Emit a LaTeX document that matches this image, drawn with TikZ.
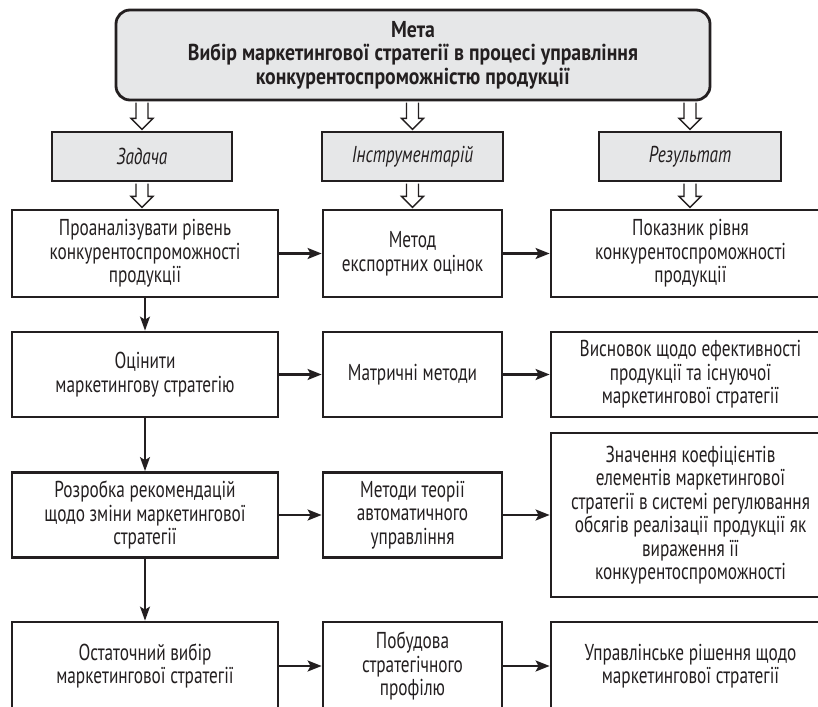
\documentclass[tikz,border=0pt]{standalone}
\usepackage{fontspec}
\setmainfont{PT Sans}[FakeStretch=0.75, BoldFeatures={FakeStretch=0.86}]
\usetikzlibrary{arrows.meta,calc}
\definecolor{ink}{HTML}{231F20}
\definecolor{panel}{HTML}{E6E7E8}

% hollow block arrow pointing down, from the bottom edge of #1 to the top edge of #2
\newcommand\blockdown[2]{%
  \draw[blockarrow] let \p1=(#1), \p2=(#2) in
    (\x1-6pt,\y1-1.3pt) -- (\x1-6pt,\y2+12.3pt) -- (\x1-11pt,\y2+12.3pt)
    -- (\x1,\y2+1.3pt) -- (\x1+11pt,\y2+12.3pt) -- (\x1+6pt,\y2+12.3pt)
    -- (\x1+6pt,\y1-1.3pt);}

\begin{document}
\begin{tikzpicture}[x=1pt,y=-1pt,
  box/.style={draw=ink, line width=2.8pt, fill=white, text=ink, align=center,
    inner sep=0pt, font=\fontsize{23}{23.5}\selectfont},
  goal/.style={box, fill=panel, rounded corners=14pt,
    font=\fontsize{23}{23.5}\selectfont\bfseries},
  headbox/.style={box, fill=panel, font=\fontsize{23}{23.5}\selectfont\itshape},
  blockarrow/.style={draw=ink, line width=1.4pt, fill=white, line join=miter},
  link/.style={draw=ink, line width=2.2pt, -{Stealth[length=14pt,width=11pt,inset=3pt]}},
  vlink/.style={draw=ink, line width=1.6pt, -{Stealth[length=14pt,width=10pt,inset=3pt]}}
]
\useasboundingbox[fill=white] (0,0) rectangle (818,706);

% goal
\node[goal, minimum width=594pt, minimum height=90pt] (goal) at (413,55)
  {Мета\\Вибір маркетингової стратегії в процесі управління\\конкурентоспроможністю продукції};

% column headers
\node[headbox, minimum width=180pt, minimum height=49pt] (task) at (142,156.5) {Задача};
\node[headbox, minimum width=181pt, minimum height=49pt] (tool) at (412.5,156.5) {Інструментарій};
\node[headbox, minimum width=182pt, minimum height=49pt] (res)  at (690,156.5) {Результат};

% row 1
\node[box, minimum width=266pt, minimum height=87pt] (a1) at (145,253.5)
  {Проаналізувати рівень\\конкурентоспроможності\\продукції};
\node[box, minimum width=179pt, minimum height=87pt] (b1) at (412.5,253.5)
  {Метод\\експортних оцінок};
\node[box, minimum width=279pt, minimum height=87pt] (c1) at (690.5,253.5)
  {Показник рівня\\конкурентоспроможності\\продукції};

% row 2
\node[box, minimum width=266pt, minimum height=85pt] (a2) at (145,374.5)
  {Оцінити\\маркетингову стратегію};
\node[box, minimum width=179pt, minimum height=85pt] (b2) at (412.5,374.5)
  {Матричні методи};
\node[box, minimum width=279pt, minimum height=85pt] (c2) at (690.5,374.5)
  {Висновок щодо ефективності\\продукції та існуючої\\маркетингової стратегії};

% row 3
\node[box, minimum width=266pt, minimum height=85pt] (a3) at (145,515)
  {Розробка рекомендацій\\щодо зміни маркетингової\\стратегії};
\node[box, minimum width=179pt, minimum height=85pt] (b3) at (412.5,515)
  {Методи теорії\\автоматичного\\управління};
\node[box, minimum width=279pt, minimum height=164pt] (c3) at (690.5,515)
  {Значення коефіцієнтів\\елементів маркетингової\\стратегії в системі регулювання\\обсягів реалізації продукції як\\вираження її\\конкурентоспроможності};

% row 4
\node[box, minimum width=266pt, minimum height=88pt] (a4) at (145,666)
  {Остаточний вибір\\маркетингової стратегії};
\node[box, minimum width=179pt, minimum height=88pt] (b4) at (412.5,666)
  {Побудова\\стратегічного\\профілю};
\node[box, minimum width=279pt, minimum height=88pt] (c4) at (690.5,666)
  {Управлінське рішення щодо\\маркетингової стратегії};

% block arrows: goal -> headers -> first row
\blockdown{goal.south -| task.north}{task.north}
\blockdown{goal.south -| tool.north}{tool.north}
\blockdown{goal.south -| res.north}{res.north}
\blockdown{task.south}{task.south |- a1.north}
\blockdown{tool.south}{tool.south |- b1.north}
\blockdown{res.south}{res.south |- c1.north}

% task -> tool -> result in every row
\draw[link] (a1) -- (b1);
\draw[link] (b1) -- (c1);
\draw[link] (a2) -- (b2);
\draw[link] (b2) -- (c2);
\draw[link] (a3) -- (b3);
\draw[link] (b3) -- (c3);
\draw[link] (a4) -- (b4);
\draw[link] (b4) -- (c4);

% sequence of tasks
\draw[vlink] (a1) -- (a2);
\draw[vlink] (a2) -- (a3);
\draw[vlink] (a3) -- (a4);
\end{tikzpicture}
\end{document}
